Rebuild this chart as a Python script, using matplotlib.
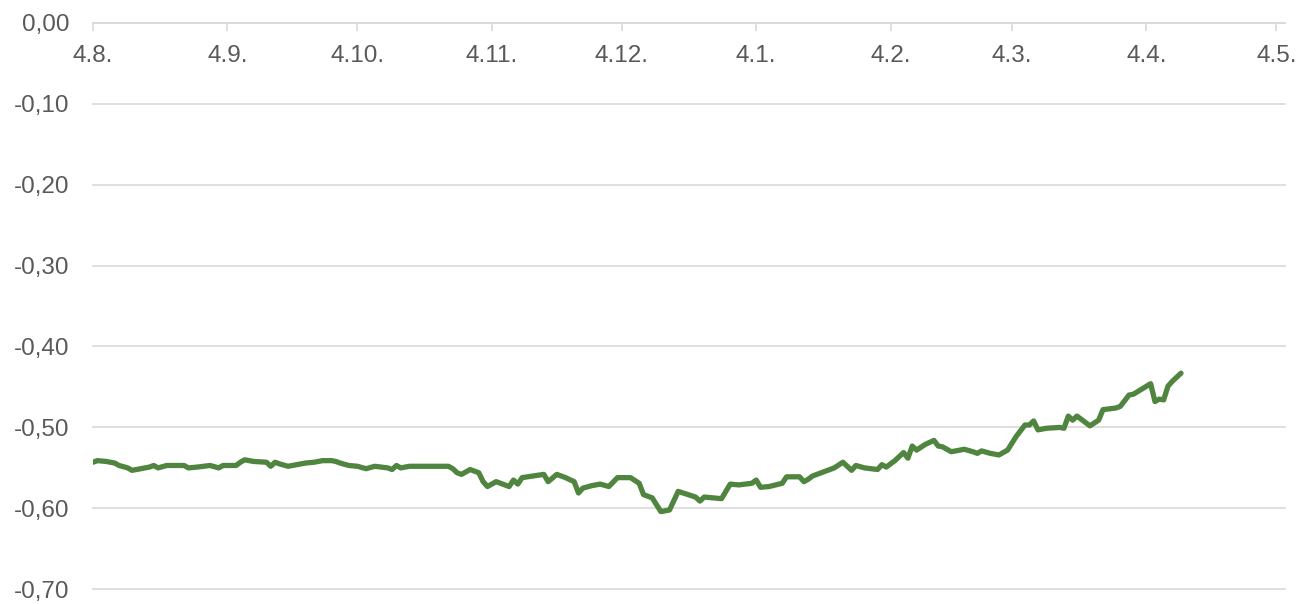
import pandas as pd
import matplotlib
matplotlib.use('Agg')
import matplotlib.pyplot as plt
from matplotlib.ticker import FuncFormatter, MultipleLocator

# start of the series, days are counted from here
start = pd.Timestamp('2022-08-04')

# days since start and the value read for that day
days = [0, 1, 3, 5, 6, 8, 9, 11, 13, 14, 15, 17, 21, 22, 24, 27, 29, 30, 33, 34,
        35, 37, 40, 41, 42, 43, 45, 47, 49, 51, 53, 55, 56, 57, 59, 61, 63, 65, 68, 69,
        70, 71, 73, 82, 83, 84, 85, 87, 89, 90, 91, 93, 96, 97, 98, 99, 104, 105, 107, 109,
        111, 112, 113, 115, 117, 119, 121, 124, 126, 127, 129, 131, 133, 135, 139, 140, 141, 145, 147, 149,
        152, 153, 154, 156, 159, 160, 163, 164, 165, 166, 168, 170, 171, 173, 175, 176, 178, 181, 182, 183,
        185, 187, 188, 189, 190, 192, 194, 195, 196, 198, 201, 203, 204, 205, 207, 209, 211, 213, 215, 216,
        217, 218, 220, 223, 224, 225, 226, 227, 230, 232, 233, 236, 237, 239, 240, 244, 245, 246, 247, 248,
        249, 251]
values = [-0.543, -0.541, -0.542, -0.544, -0.547, -0.550, -0.553, -0.551, -0.549, -0.547,
          -0.550, -0.547, -0.547, -0.550, -0.549, -0.547, -0.550, -0.547, -0.547, -0.543,
          -0.540, -0.542, -0.543, -0.548, -0.543, -0.545, -0.548, -0.546, -0.544, -0.543,
          -0.541, -0.541, -0.542, -0.544, -0.547, -0.548, -0.551, -0.548, -0.550, -0.552,
          -0.547, -0.550, -0.548, -0.548, -0.551, -0.556, -0.558, -0.552, -0.556, -0.567,
          -0.573, -0.567, -0.573, -0.565, -0.570, -0.562, -0.558, -0.567, -0.558, -0.562,
          -0.567, -0.581, -0.575, -0.572, -0.570, -0.573, -0.562, -0.562, -0.569, -0.583,
          -0.587, -0.604, -0.602, -0.579, -0.586, -0.591, -0.586, -0.588, -0.570, -0.571,
          -0.569, -0.565, -0.574, -0.573, -0.569, -0.561, -0.561, -0.567, -0.564, -0.560,
          -0.556, -0.552, -0.550, -0.543, -0.553, -0.547, -0.550, -0.552, -0.546, -0.549,
          -0.541, -0.531, -0.538, -0.523, -0.528, -0.521, -0.516, -0.523, -0.524, -0.530,
          -0.527, -0.530, -0.532, -0.529, -0.532, -0.534, -0.528, -0.511, -0.497, -0.497,
          -0.492, -0.503, -0.501, -0.500, -0.501, -0.486, -0.491, -0.486, -0.498, -0.491,
          -0.478, -0.476, -0.474, -0.460, -0.459, -0.446, -0.468, -0.465, -0.466, -0.449,
          -0.443, -0.433]

tick_dates = ['2022-08-04', '2022-09-04', '2022-10-04', '2022-11-04', '2022-12-04',
              '2023-01-04', '2023-02-04', '2023-03-04', '2023-04-04', '2023-05-04']
tick_labels = ['4.8.', '4.9.', '4.10.', '4.11.', '4.12.', '4.1.', '4.2.', '4.3.', '4.4.', '4.5.']

plt.rcParams['font.family'] = ['Liberation Sans', 'DejaVu Sans']

dates = start + pd.to_timedelta(days, unit='D')

fig = plt.figure(figsize=(13.03, 6.04), dpi=100)
ax = fig.add_axes([0.0714, 0.0243, 0.9148, 0.9381])

ax.plot(dates, values, color='#508540', linewidth=3.8, solid_joinstyle='round',
        solid_capstyle='round', zorder=3)

ax.set_ylim(-0.70, 0.0)
ax.set_xlim(start, start + pd.Timedelta(days=275))

# horizontal gridlines
ax.yaxis.set_major_locator(MultipleLocator(0.1))
ax.grid(axis='y', color='#D9D9D9', linewidth=1.2)
ax.grid(axis='x', visible=False)
for gl in ax.get_ygridlines():
    gl.set_clip_on(False)
ax.yaxis.set_major_formatter(FuncFormatter(lambda v, p: f"{v:.2f}".replace('.', ',').replace('-0,00', '0,00')))
ax.tick_params(axis='y', length=0, pad=17, labelsize=17.5, labelcolor='#595959')

# date axis sits at 0 on top, labels below it
ax.spines['bottom'].set_position(('data', 0.0))
ax.spines['bottom'].set_color('#D9D9D9')
ax.spines['bottom'].set_linewidth(1.2)
for s in ['top', 'left', 'right']:
    ax.spines[s].set_visible(False)
ax.set_xticks(pd.to_datetime(tick_dates))
ax.set_xticklabels(tick_labels)
ax.tick_params(axis='x', direction='out', length=6, width=1.2, color='#D9D9D9',
               pad=10, labelsize=17.5, labelcolor='#595959')

fig.savefig('out.png', dpi=100)
